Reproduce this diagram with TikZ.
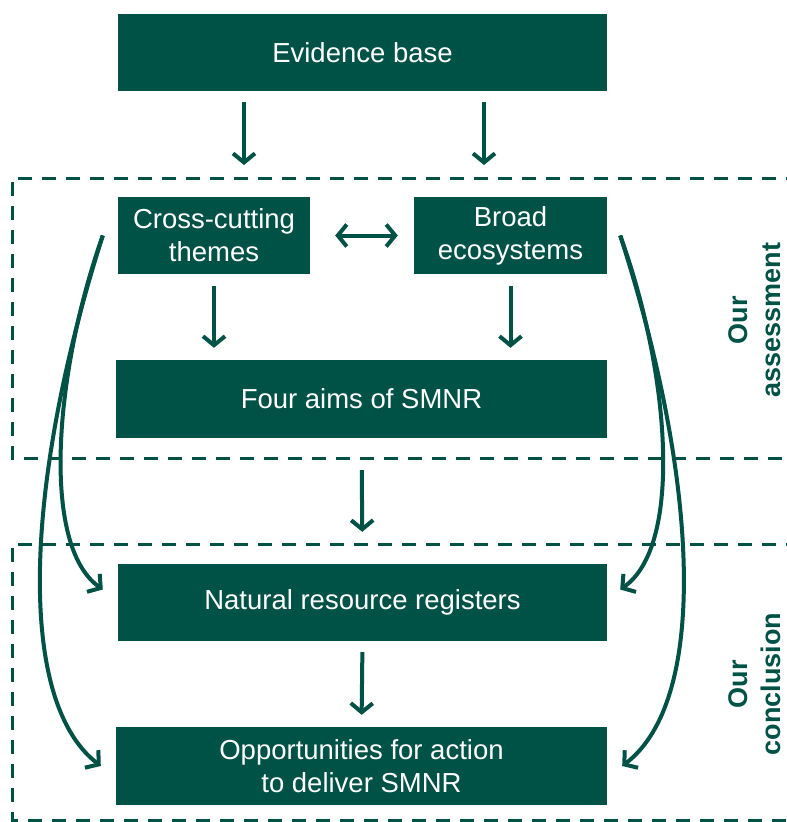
\documentclass[tikz,border=0pt]{standalone}
\usepackage{fontspec}
\setmainfont{Liberation Sans}
\usetikzlibrary{arrows.meta}
\definecolor{nrwgreen}{RGB}{0,82,70}
\tikzstyle{box} = [rectangle, fill=nrwgreen, text=white, inner sep=0pt, minimum height=77pt, align=center, font=\fontsize{27.5}{33}\selectfont]
\tikzstyle{arrow} = [line width=4pt, draw=nrwgreen, -{Straight Barb[length=9pt,width=22pt]}]
\tikzstyle{twoway} = [line width=4pt, draw=nrwgreen, {Straight Barb[length=9pt,width=22pt]}-{Straight Barb[length=9pt,width=22pt]}]
\tikzstyle{frame} = [line width=3pt, draw=nrwgreen, dash pattern=on 14pt off 10pt]
\tikzstyle{side} = [rotate=90, text=nrwgreen, align=center, font=\bfseries\fontsize{27}{33}\selectfont]

\begin{document}
\begin{tikzpicture}[x=1pt,y=-1pt]
\clip (0,0) rectangle (787,822);
\fill[white] (0,0) rectangle (787,822);
\draw[frame] (800,178) -- (12,178) -- (12,458) -- (800,458);
\draw[frame] (800,544) -- (12,544) -- (12,820) -- (800,820);

\node[box, minimum width=489pt] (evidence) at (362.5,52.5) {Evidence base};
\node[box, minimum width=192pt] (cross) at (214,235.5) {Cross-cutting\\themes};
\node[box, minimum width=193pt] (broad) at (510.5,235.5) {Broad\\ecosystems};
\node[box, minimum width=491pt, minimum height=78pt] (aims) at (361.5,399) {Four aims of SMNR};
\node[box, minimum width=489pt] (registers) at (362.5,602.5) {Natural resource registers};
\node[box, minimum width=491pt, minimum height=78pt] (opps) at (361.5,766) {Opportunities for action\\to deliver SMNR};

\node[side] (assess) at (755,320) {Our\\assessment};
\node[side] (concl) at (755,684) {Our\\conclusion};

\coordinate (ecross) at (244,165);
\coordinate (ebroad) at (484,165);
\draw[arrow, shorten <=11pt] (evidence.south -| ecross) -- (ecross);
\draw[arrow, shorten <=11pt] (evidence.south -| ebroad) -- (ebroad);
\draw[twoway, shorten <=25pt, shorten >=16pt] (cross.east) -- (broad.west);
\draw[arrow, shorten <=12pt, shorten >=12pt] (cross.south) -- (cross.south |- aims.north);
\draw[arrow, shorten <=12pt, shorten >=12pt] (broad.south) -- (broad.south |- aims.north);
\draw[arrow, shorten <=32pt, shorten >=32pt] (aims.south) -- (registers.north);
\draw[arrow, shorten <=11pt, shorten >=12pt] (registers.south) -- (opps.north);

\draw[arrow] ([xshift=-15pt]cross.west) .. controls (55,370) and (40,545) .. ([xshift=-15pt,yshift=13pt]registers.west);
\draw[arrow] ([xshift=-15pt]cross.west) .. controls (25,480) and (15,700) .. ([xshift=-15pt]opps.west);
\draw[arrow] ([xshift=13pt]broad.east) .. controls (669,370) and (684,545) .. ([xshift=13pt,yshift=13pt]registers.east);
\draw[arrow] ([xshift=13pt]broad.east) .. controls (699,480) and (709,700) .. ([xshift=15pt]opps.east);
\end{tikzpicture}
\end{document}
